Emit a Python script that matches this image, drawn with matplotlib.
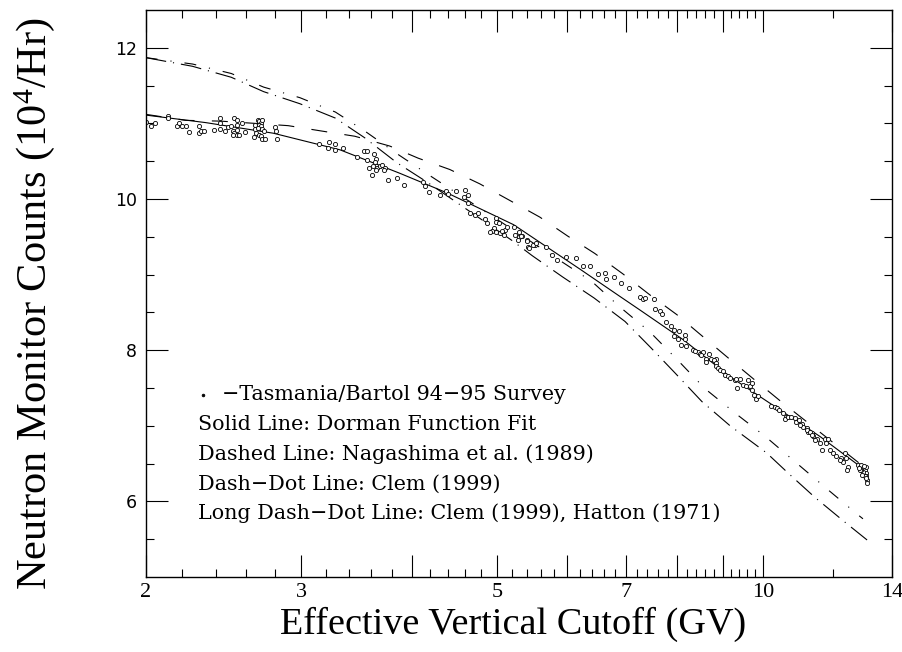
import numpy as np
import matplotlib.pyplot as plt
from matplotlib.ticker import FixedLocator, FixedFormatter, NullFormatter

plt.rcParams['lines.scale_dashes'] = False
plt.rcParams['mathtext.fontset'] = 'custom'
plt.rcParams['mathtext.rm'] = 'Liberation Serif'
plt.rcParams['mathtext.default'] = 'rm'

# Tasmania/Bartol 94-95 latitude survey: cutoff rigidity (GV), counts (10^4/hr)
survey_rc = [
    2.00, 2.03, 2.05, 2.12, 2.12, 2.17, 2.18, 2.20, 2.22, 2.24, 2.30, 2.31, 2.33, 2.30,
    2.39, 2.43, 2.43, 2.43, 2.46, 2.48, 2.50, 2.52, 2.54, 2.54, 2.57, 2.51, 2.52, 2.54,
    2.54, 2.51, 2.55, 2.59, 2.65, 2.66, 2.66, 2.68, 2.69, 2.70, 2.71, 2.69, 2.70, 2.68,
    2.71, 2.67, 2.69, 2.70, 2.72, 2.71, 2.73, 2.80, 2.81, 2.82,
    3.14, 3.23, 3.28, 3.22, 3.28, 3.35, 3.53, 3.56, 3.47, 3.63, 3.56, 3.65, 3.64, 3.58,
    3.62, 3.66, 3.68, 3.65, 3.70, 3.73, 3.72, 3.61, 3.76, 3.85, 3.92,
    4.12, 4.14, 4.19, 4.31, 4.38, 4.40, 4.49, 4.60, 4.59, 4.63, 4.63, 4.66, 4.72, 4.76,
    4.84, 4.87, 4.99, 4.98, 5.03, 4.96, 4.94, 4.99, 5.04, 5.09, 5.11, 5.13, 5.07, 5.22,
    5.24, 5.29, 5.30, 5.34, 5.40, 4.91, 5.28, 5.42, 5.68, 5.77, 5.85, 5.98, 6.15, 6.26,
    6.37, 5.52, 5.32, 5.41, 5.49, 5.54, 5.43,
    6.51, 6.62, 6.65, 6.79, 6.90, 7.05, 7.25, 7.31, 7.36, 7.52, 7.55, 7.65, 7.69, 7.76,
    7.86, 7.93, 8.04, 8.16, 7.93, 8.02, 8.08, 8.18, 8.17, 8.34, 8.44, 8.48, 8.55, 8.68,
    8.73, 8.84, 8.37, 8.51, 8.62, 8.61, 8.80, 8.84, 8.84, 8.90, 8.95, 9.01, 9.07, 9.13,
    9.18, 9.29, 9.33, 9.41, 9.35, 9.49, 9.56, 9.62, 9.66, 9.73, 9.72, 9.78, 9.83, 9.87,
    10.22, 10.31, 10.38, 10.44, 10.53, 10.61, 10.60, 10.67, 10.77, 10.86, 10.91, 10.98,
    11.06, 11.10, 11.21, 11.25, 11.36, 11.40, 11.50, 11.75, 11.86, 11.02, 11.21, 11.30,
    11.36, 11.45, 11.60, 11.65, 11.80, 11.90, 12.00, 12.11, 12.27, 12.38, 12.41, 12.32,
    12.48, 12.45, 12.22, 12.82, 12.87, 12.93, 12.98, 13.04, 13.07, 13.09, 13.11, 13.04,
    12.98, 12.93, 12.87, 13.07, 13.00, 13.13, 13.10, 12.95, 12.84,
]
survey_counts = [
    11.02, 10.97, 11.01, 11.10, 11.07, 10.96, 11.00, 10.97, 10.97, 10.88, 10.87, 10.90, 10.90, 10.97,
    10.91, 11.07, 11.01, 10.93, 10.90, 10.95, 10.97, 11.07, 11.04, 10.98, 11.00, 10.90, 10.87, 10.91,
    10.85, 10.84, 10.84, 10.89, 10.82, 10.98, 10.92, 11.05, 11.03, 11.01, 11.04, 10.98, 10.96, 10.94,
    10.92, 10.87, 10.85, 10.83, 10.90, 10.79, 10.79, 10.95, 10.90, 10.79,
    10.73, 10.75, 10.73, 10.68, 10.65, 10.67, 10.63, 10.64, 10.56, 10.60, 10.51, 10.53, 10.49, 10.41,
    10.43, 10.41, 10.43, 10.38, 10.45, 10.41, 10.38, 10.32, 10.25, 10.28, 10.18,
    10.22, 10.17, 10.09, 10.05, 10.11, 10.07, 10.11, 10.12, 10.03, 10.05, 9.95, 9.81, 9.79, 9.81,
    9.73, 9.68, 9.75, 9.69, 9.68, 9.62, 9.58, 9.56, 9.55, 9.53, 9.59, 9.63, 9.58, 9.63,
    9.53, 9.57, 9.50, 9.51, 9.46, 9.56, 9.46, 9.36, 9.36, 9.26, 9.19, 9.23, 9.22, 9.11,
    9.12, 9.39, 9.51, 9.45, 9.39, 9.42, 9.35,
    9.01, 9.02, 8.94, 8.97, 8.89, 8.82, 8.71, 8.68, 8.69, 8.68, 8.54, 8.52, 8.48, 8.37,
    8.32, 8.27, 8.25, 8.20, 8.19, 8.15, 8.07, 8.05, 8.15, 8.00, 7.98, 7.95, 7.98, 7.95,
    7.89, 7.89, 7.99, 7.94, 7.89, 7.85, 7.87, 7.83, 7.79, 7.76, 7.74, 7.72, 7.67, 7.66,
    7.63, 7.61, 7.62, 7.62, 7.50, 7.54, 7.53, 7.61, 7.52, 7.48, 7.56, 7.41, 7.36, 7.39,
    7.26, 7.25, 7.23, 7.21, 7.17, 7.12, 7.09, 7.11, 7.12, 7.10, 7.05, 7.08,
    7.03, 6.99, 6.97, 6.92, 6.90, 6.86, 6.83, 6.83, 6.83, 7.01, 6.94, 6.92,
    6.88, 6.81, 6.77, 6.68, 6.77, 6.68, 6.64, 6.60, 6.58, 6.64, 6.57, 6.52,
    6.46, 6.41, 6.55, 6.48, 6.46, 6.48, 6.44, 6.41, 6.37, 6.33, 6.28, 6.33,
    6.39, 6.41, 6.41, 6.46, 6.47, 6.25, 6.31, 6.35, 6.44,
]

# Dorman function fit (solid)
dorman_rc = [2.0, 2.34, 2.79, 3.32, 3.88, 4.39, 5.22, 6.21, 6.89, 7.26, 8.12, 9.18, 10.0, 11.6, 13.1]
dorman_counts = [11.11, 11.01, 10.87, 10.65, 10.34, 10.08, 9.66, 9.07, 8.71, 8.53, 8.14, 7.65, 7.36, 6.86, 6.40]

# Nagashima et al. (1989) (dashed)
nagashima_rc = [2.0, 2.22, 2.43, 2.66, 2.90, 3.16, 3.45, 3.78, 4.07, 4.42, 4.78, 5.17, 5.59,
                6.01, 6.45, 6.94, 7.45, 7.99, 8.55, 9.13, 9.78, 10.46, 13.2]
nagashima_counts = [11.12, 11.04, 11.03, 11.00, 10.97, 10.90, 10.83, 10.70, 10.54, 10.39, 10.20, 9.98, 9.76,
                    9.51, 9.28, 9.01, 8.73, 8.47, 8.18, 7.90, 7.61, 7.33, 6.40]

# Clem (1999) (dash-dot)
clem_rc = [2.0, 2.26, 2.50, 2.72, 2.99, 3.28, 3.54, 3.85, 4.17, 5.2, 6.4, 6.89, 7.45, 8.02,
           8.6, 9.32, 10.06, 10.96, 11.86, 12.82, 12.98]
clem_counts = [11.87, 11.785, 11.66, 11.48, 11.34, 11.15, 10.90, 10.60, 10.33, 9.60, 8.91, 8.57, 8.24, 7.86,
               7.49, 7.16, 6.86, 6.49, 6.15, 5.82, 5.77]

# Clem (1999), Hatton (1971) (long dash-dot)
hatton_rc = [2.0, 2.26, 2.50, 2.72, 2.99, 3.28, 3.54, 3.85, 4.17, 5.2, 5.48, 5.93, 6.44, 6.98,
             7.47, 7.95, 8.53, 9.18, 10.1, 10.69, 11.46, 12.37, 13.12]
hatton_counts = [11.87, 11.755, 11.61, 11.42, 11.26, 11.07, 10.81, 10.48, 10.22, 9.45, 9.25, 8.97, 8.69, 8.38,
                 8.03, 7.70, 7.32, 7.00, 6.64, 6.37, 6.05, 5.73, 5.49]

legend_lines = [
    'Solid Line: Dorman Function Fit',
    'Dashed Line: Nagashima et al. (1989)',
    'Dash\u2212Dot Line: Clem (1999)',
    'Long Dash\u2212Dot Line: Clem (1999), Hatton (1971)',
]

x_major = [2, 3, 4, 5, 6, 7, 8, 9, 10, 14]
x_major_labels = ['2', '3', '', '5', '', '7', '', '', '10', '14']
x_minor = [2.2, 2.4, 2.6, 2.8, 3.2, 3.4, 3.6, 3.8, 4.2, 4.4, 4.6, 4.8, 5.2, 5.4, 5.6, 5.8,
           6.2, 6.4, 6.6, 6.8, 7.2, 7.4, 7.6, 7.8, 8.2, 8.4, 8.6, 8.8, 9.2, 9.4, 9.6, 9.8, 12]

fig = plt.figure(figsize=(9.03, 6.52), dpi=100)
ax = fig.add_axes([0.1613, 0.1150, 0.8265, 0.8697])
ax.set_xscale('log')

lw = 0.8
ax.plot(dorman_rc, dorman_counts, color='black', lw=lw)
ax.plot(nagashima_rc, nagashima_counts, color='black', lw=lw, dashes=(11.5, 12.5))
ax.plot(clem_rc, clem_counts, color='black', lw=lw, dashes=(8.6, 9.4, 0.8, 9.4))
ax.plot(hatton_rc, hatton_counts, color='black', lw=lw, dashes=(15, 5, 0.8, 5))
ax.plot(survey_rc, survey_counts, ls='none', marker='o', ms=3.0, mfc='white',
        mec='black', mew=0.6)

ax.set_xlim(2, 14)
ax.set_ylim(5, 12.5)

ax.xaxis.set_major_locator(FixedLocator(x_major))
ax.xaxis.set_major_formatter(FixedFormatter(x_major_labels))
ax.xaxis.set_minor_locator(FixedLocator(x_minor))
ax.xaxis.set_minor_formatter(NullFormatter())
ax.yaxis.set_major_locator(FixedLocator([6, 8, 10, 12]))
ax.yaxis.set_minor_locator(FixedLocator(np.arange(5.5, 12.5, 0.5)))

ax.tick_params(which='both', direction='in', top=True, right=True, width=0.8, color='black')
ax.tick_params(which='major', length=15.8)
ax.tick_params(which='minor', length=5.8)
ax.tick_params(axis='x', pad=4)
ax.tick_params(axis='y', pad=6)
for lab in ax.get_xticklabels():
    lab.set_fontfamily('Liberation Serif')
    lab.set_fontsize(16)
for lab in ax.get_yticklabels():
    lab.set_fontfamily('DejaVu Sans')
    lab.set_fontsize(12.5)
for sp in ax.spines.values():
    sp.set_linewidth(1.0)

# key text inside the frame
ax.plot([0.077], [0.321], transform=ax.transAxes, ls='none', marker='o', ms=2.0,
        mfc='black', mec='black', mew=0.5)
ax.text(0.1022, 0.321, '\u2212Tasmania/Bartol 94\u221295 Survey', transform=ax.transAxes,
        family='DejaVu Serif', fontsize=14.9, va='center', ha='left')
for i, line in enumerate(legend_lines):
    ax.text(0.0705, 0.269 - i * 0.0523, line, transform=ax.transAxes,
            family='DejaVu Serif', fontsize=14.9, va='center', ha='left')

fig.text(513 / 903, 1 - 624 / 652, 'Effective Vertical Cutoff (GV)', family='Liberation Serif',
         fontsize=27.5, ha='center', va='center')
fig.text(35 / 903, 1 - 304 / 652, 'Neutron Monitor Counts (10$^4$/Hr)', family='Liberation Serif',
         fontsize=30.5, ha='center', va='center', rotation=90)

fig.savefig('out.png', dpi=100)
